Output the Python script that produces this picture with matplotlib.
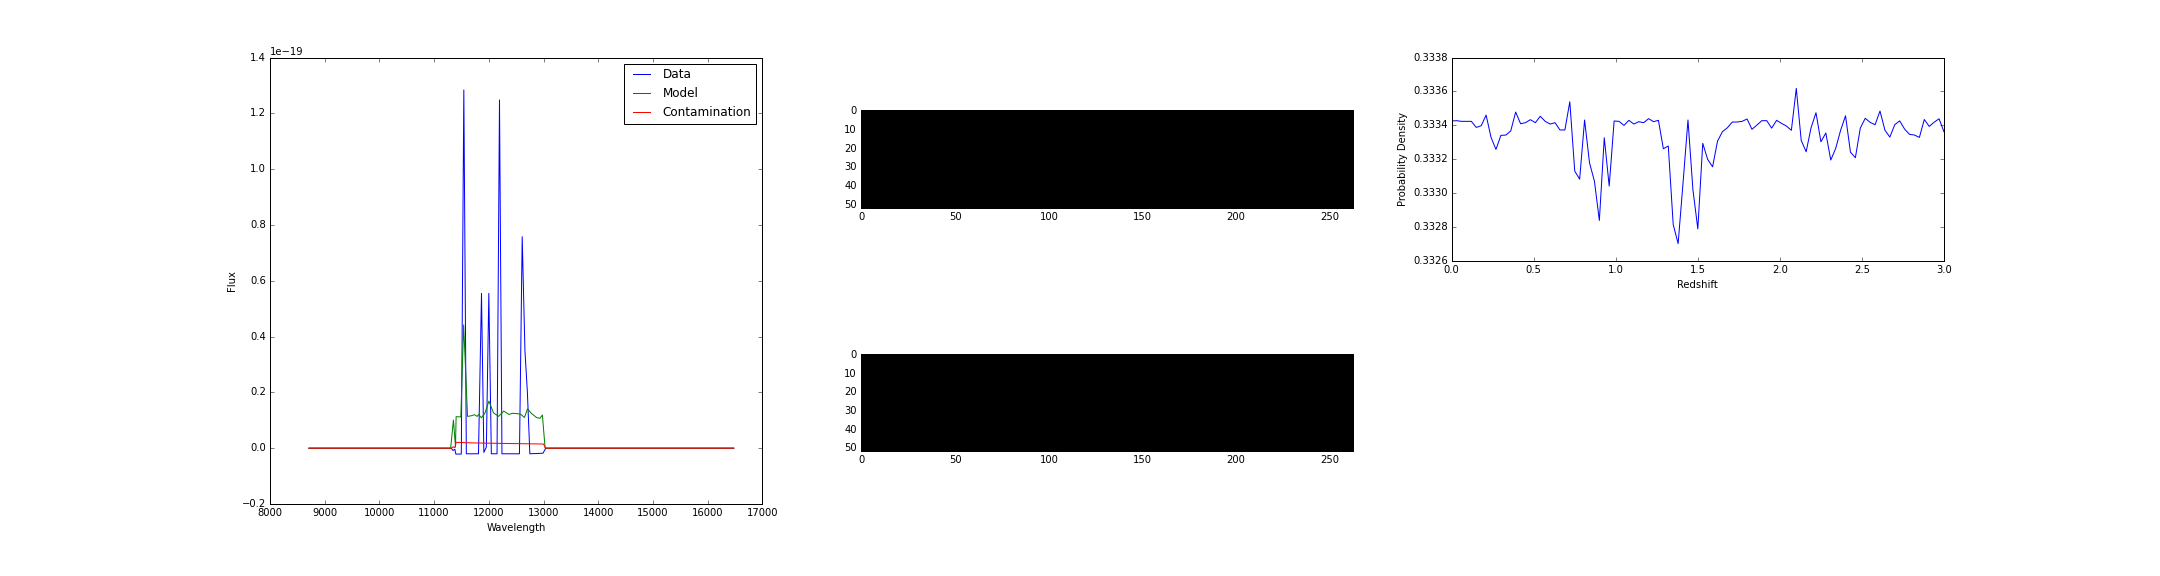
import numpy as np
import matplotlib
matplotlib.use("Agg")
import matplotlib.pyplot as plt
from matplotlib.ticker import ScalarFormatter

# ---------------- data ----------------
# Spectrum panel (flux in units of 1e-19)
wave_data = [8712, 11311, 11345, 11380, 11397, 11497, 11543, 11589, 11811, 11866,
             11909, 11955, 12000, 12046, 12150, 12195, 12240, 12560, 12610, 12660,
             12705, 12750, 12990, 13012, 13043, 16477]
flux_data = [0.0, 0.0, -0.008, -0.004, -0.021, -0.021, 1.284, -0.020, -0.020, 0.555,
             -0.015, 0.004, 0.555, -0.020, -0.020, 1.248, -0.020, -0.020, 0.758, 0.350,
             0.200, -0.020, -0.018, -0.010, 0.0, 0.0]

wave_model = [8712, 11302, 11353, 11391, 11402, 11488, 11540, 11611, 11674, 11737,
              11788, 11813, 11864, 11927, 12002, 12084, 12178, 12273, 12367, 12431,
              12525, 12588, 12651, 12708, 12777, 12872, 12935, 12979, 13029, 16477]
flux_model = [0.0, 0.0, 0.101, 0.005, 0.113, 0.112, 0.442, 0.114, 0.116, 0.120,
              0.114, 0.121, 0.109, 0.125, 0.169, 0.127, 0.114, 0.133, 0.121, 0.125,
              0.124, 0.121, 0.110, 0.141, 0.125, 0.110, 0.107, 0.119, 0.0, 0.0]

wave_cont = [8712, 11311, 11345, 11380, 11402, 11700, 12300, 13000, 13037, 16477]
flux_cont = [0.0, 0.0, 0.005, 0.002, 0.021, 0.019, 0.017, 0.015, 0.0, 0.0]

# 2D spectra (all zero -> black)
img_rows, img_cols = 52, 263
image_top = np.zeros((img_rows, img_cols))
image_bottom = np.zeros((img_rows, img_cols))

# Redshift probability density
redshift = np.linspace(0.0, 3.0, 101)
pdz = [0.333425, 0.333427, 0.333423, 0.333423, 0.333423, 0.333387, 0.333397, 0.333460,
       0.333328, 0.333257, 0.333340, 0.333342, 0.333366, 0.333478, 0.333409, 0.333415,
       0.333433, 0.333415, 0.333453, 0.333423, 0.333407, 0.333415, 0.333372, 0.333372,
       0.333539, 0.333129, 0.333081, 0.333431, 0.333178, 0.333069, 0.332837, 0.333326,
       0.333040, 0.333425, 0.333423, 0.333399, 0.333429, 0.333407, 0.333421, 0.333415,
       0.333439, 0.333421, 0.333429, 0.333261, 0.333277, 0.332813, 0.332700, 0.333060,
       0.333431, 0.333020, 0.332787, 0.333293, 0.333198, 0.333154, 0.333306, 0.333362,
       0.333385, 0.333419, 0.333419, 0.333423, 0.333437, 0.333376, 0.333401, 0.333427,
       0.333427, 0.333383, 0.333429, 0.333411, 0.333395, 0.333370, 0.333618, 0.333310,
       0.333243, 0.333385, 0.333474, 0.333302, 0.333354, 0.333194, 0.333263, 0.333370,
       0.333456, 0.333241, 0.333208, 0.333383, 0.333441, 0.333417, 0.333403, 0.333484,
       0.333371, 0.333330, 0.333403, 0.333426, 0.333377, 0.333346, 0.333342, 0.333328,
       0.333434, 0.333393, 0.333418, 0.333438, 0.333361]

# ---------------- figure ----------------
plt.style.use("classic")
plt.rcParams["font.size"] = 10
plt.rcParams["font.family"] = ["DejaVu Sans"]

fig = plt.figure(figsize=(30, 8), dpi=72)
fig.patch.set_facecolor("white")
gs = fig.add_gridspec(2, 3, left=0.125, right=0.9, top=0.9, bottom=0.125,
                      wspace=0.2, hspace=0.2)

# Spectrum
ax1 = fig.add_subplot(gs[:, 0])
ax1.plot(wave_data, np.array(flux_data) * 1e-19, color="b", lw=1.0, label="Data")
ax1.plot(wave_model, np.array(flux_model) * 1e-19, color="g", lw=1.0, label="Model")
ax1.plot(wave_cont, np.array(flux_cont) * 1e-19, color="r", lw=1.0, label="Contamination")
ax1.set_xlim(8000, 17000)
ax1.set_ylim(-0.2e-19, 1.4e-19)
ax1.set_xlabel("Wavelength")
ax1.set_ylabel("Flux")
ax1.legend(loc="upper right")

# 2D images
ax2 = fig.add_subplot(gs[0, 1])
ax2.imshow(image_top, cmap="gray", vmin=0, vmax=1, interpolation="nearest")
ax3 = fig.add_subplot(gs[1, 1])
ax3.imshow(image_bottom, cmap="gray", vmin=0, vmax=1, interpolation="nearest")
for ax in (ax2, ax3):
    ax.set_xticks([0, 50, 100, 150, 200, 250])
    ax.set_yticks([0, 10, 20, 30, 40, 50])

# PDZ
ax4 = fig.add_subplot(gs[0, 2])
ax4.plot(redshift, pdz, color="b", lw=1.0)
ax4.set_xlim(0, 3)
ax4.set_ylim(0.3326, 0.3338)
fmt = ScalarFormatter(useOffset=False)
ax4.yaxis.set_major_formatter(fmt)
ax4.set_yticks([0.3326, 0.3328, 0.3330, 0.3332, 0.3334, 0.3336, 0.3338])
ax4.set_xlabel("Redshift")
ax4.set_ylabel("Probability Density")

fig.savefig("out.png", dpi=72, facecolor="white")
